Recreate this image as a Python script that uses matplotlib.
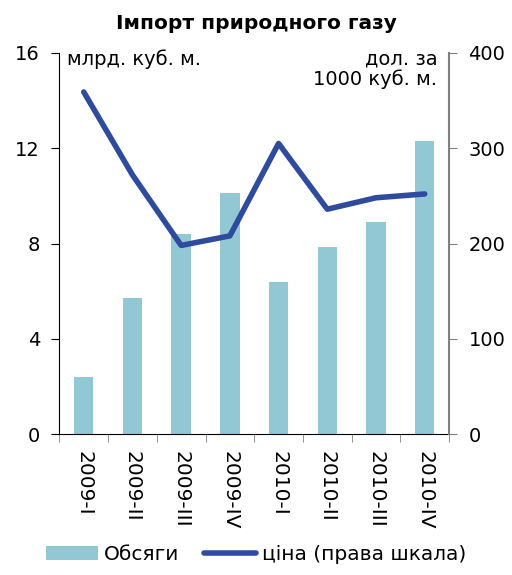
import matplotlib.pyplot as plt
import numpy as np

quarters = ["2009-I", "2009-II", "2009-III", "2009-IV",
            "2010-I", "2010-II", "2010-III", "2010-IV"]
volume = [2.4, 5.7, 8.4, 10.1, 6.4, 7.85, 8.9, 12.3]   # bn cubic m
price = [359, 272, 198, 208, 305, 236, 248, 252]     # USD per 1000 cubic m

bar_color = "#92C8D4"
line_color = "#2E4B9E"

fig = plt.figure(figsize=(5.12, 5.75), dpi=100)
ax = fig.add_axes([0.116, 0.245, 0.761, 0.663])
ax2 = ax.twinx()

x = np.arange(len(quarters))
bars = ax.bar(x, volume, width=0.4, color=bar_color, zorder=1)
line, = ax2.plot(x, price, color=line_color, linewidth=4, solid_capstyle="round", zorder=3)

ax.set_xlim(-0.5, len(quarters) - 0.5)
ax.set_ylim(0, 16)
ax.set_yticks([0, 4, 8, 12, 16])
ax2.set_ylim(0, 400)
ax2.set_yticks([0, 100, 200, 300, 400])

ax.set_xticks(x)
ax.set_xticklabels(quarters, rotation=270, fontsize=14.5)
ax.set_xticks(np.arange(-0.5, len(quarters)), minor=True)
ax.tick_params(axis="x", which="major", length=0, pad=12)
ax.tick_params(axis="x", which="minor", length=6, color="#808080")
ax.tick_params(axis="y", labelsize=14, length=6, pad=8)
ax2.tick_params(axis="y", labelsize=14, length=6, pad=8, color="#808080")

ax.spines["top"].set_visible(False)
ax2.spines["top"].set_visible(False)
ax2.spines["left"].set_visible(False)
ax2.spines["bottom"].set_visible(False)
ax.spines["right"].set_visible(False)
ax2.spines["right"].set_color("#808080")
ax2.spines["right"].set_linewidth(1.5)

ax.text(0.02, 1.01, "млрд. куб. м.", transform=ax.transAxes,
        ha="left", va="top", fontsize=14)
ax.text(0.97, 1.01, "дол. за\n1000 куб. м.", transform=ax.transAxes,
        ha="right", va="top", fontsize=14, multialignment="right",
        linespacing=1.1)

fig.suptitle("Імпорт природного газу", y=0.975, fontsize=14.5, fontweight="bold")

fig.legend([bars, line], ["Обсяги", "ціна (права шкала)"], loc="lower center",
           bbox_to_anchor=(0.5, -0.012), ncol=2, frameon=False, fontsize=14.5,
           handlelength=2.6, columnspacing=1.2, handletextpad=0.3)

fig.savefig("out.png", dpi=100)
